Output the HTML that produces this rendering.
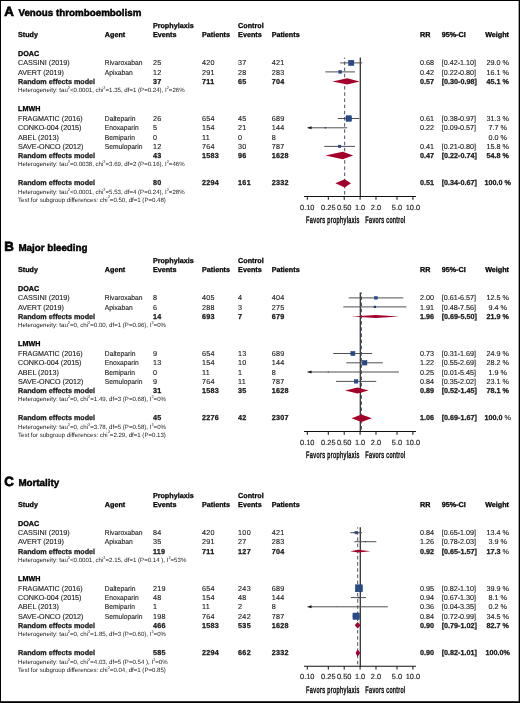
<!DOCTYPE html>
<html><head><meta charset="utf-8"><style>
html,body{margin:0;padding:0;background:#fff;}
body{width:520px;height:703px;overflow:hidden;position:relative;}
svg{position:absolute;left:0;top:0;font-family:"Liberation Sans", sans-serif;will-change:transform;text-rendering:geometricPrecision;}
.b{position:absolute;background:#000;}
</style></head><body>
<svg width="520" height="703" viewBox="0 0 520 703">
<text x="4.30" y="16.25" font-size="13.3" font-weight="bold" fill="#000" stroke="#000" stroke-width="0.7">A</text>
<text x="18.40" y="16.25" font-size="9.8" font-weight="bold" fill="#000" stroke="#000" stroke-width="0.45">Venous thromboembolism</text>
<text x="152.90" y="27.80" font-size="7.2" font-weight="bold" fill="#000" stroke="#000" stroke-width="0.26">Prophylaxis</text>
<text x="238.10" y="27.80" font-size="7.2" font-weight="bold" fill="#000" stroke="#000" stroke-width="0.26">Control</text>
<text x="18.00" y="37.00" font-size="7.2" font-weight="bold" fill="#000" stroke="#000" stroke-width="0.26">Study</text>
<text x="104.80" y="37.00" font-size="7.2" font-weight="bold" fill="#000" stroke="#000" stroke-width="0.26">Agent</text>
<text x="152.90" y="37.00" font-size="7.2" font-weight="bold" fill="#000" stroke="#000" stroke-width="0.26">Events</text>
<text x="202.00" y="37.00" font-size="7.2" font-weight="bold" fill="#000" stroke="#000" stroke-width="0.26">Patients</text>
<text x="238.10" y="37.00" font-size="7.2" font-weight="bold" fill="#000" stroke="#000" stroke-width="0.26">Events</text>
<text x="271.70" y="37.00" font-size="7.2" font-weight="bold" fill="#000" stroke="#000" stroke-width="0.26">Patients</text>
<text x="420.00" y="37.00" font-size="7.2" font-weight="bold" fill="#000" stroke="#000" stroke-width="0.26">RR</text>
<text x="441.70" y="37.00" font-size="7.2" font-weight="bold" fill="#000" stroke="#000" stroke-width="0.26">95%-CI</text>
<text x="497.10" y="37.00" font-size="7.2" font-weight="bold" text-anchor="middle" fill="#000" stroke="#000" stroke-width="0.26">Weight</text>
<text x="18.00" y="56.00" font-size="7.2" font-weight="bold" fill="#000" stroke="#000" stroke-width="0.26">DOAC</text>
<text x="18.00" y="65.00" font-size="7.2" fill="#1a1a1a" stroke="#1a1a1a" stroke-width="0.12">CASSINI (2019)</text>
<text x="104.80" y="65.00" font-size="7.2" fill="#1a1a1a" stroke="#1a1a1a" stroke-width="0.12" textLength="37.60" lengthAdjust="spacingAndGlyphs">Rivaroxaban</text>
<text x="152.90" y="65.00" font-size="7.2" fill="#1a1a1a" stroke="#1a1a1a" stroke-width="0.12" letter-spacing="0.28">25</text>
<text x="202.00" y="65.00" font-size="7.2" fill="#1a1a1a" stroke="#1a1a1a" stroke-width="0.12" letter-spacing="0.28">420</text>
<text x="238.10" y="65.00" font-size="7.2" fill="#1a1a1a" stroke="#1a1a1a" stroke-width="0.12" letter-spacing="0.28">37</text>
<text x="271.70" y="65.00" font-size="7.2" fill="#1a1a1a" stroke="#1a1a1a" stroke-width="0.12" letter-spacing="0.28">421</text>
<text x="420.00" y="65.00" font-size="7.2" fill="#1a1a1a" stroke="#1a1a1a" stroke-width="0.12">0.68</text>
<text x="441.70" y="65.00" font-size="7.2" fill="#1a1a1a" stroke="#1a1a1a" stroke-width="0.12">[0.42-1.10]</text>
<text x="497.70" y="65.00" font-size="7.2" text-anchor="middle" fill="#1a1a1a" stroke="#1a1a1a" stroke-width="0.12">29.0 %</text>
<text x="18.00" y="74.60" font-size="7.2" fill="#1a1a1a" stroke="#1a1a1a" stroke-width="0.12">AVERT (2019)</text>
<text x="104.80" y="74.60" font-size="7.2" fill="#1a1a1a" stroke="#1a1a1a" stroke-width="0.12" textLength="28.00" lengthAdjust="spacingAndGlyphs">Apixaban</text>
<text x="152.90" y="74.60" font-size="7.2" fill="#1a1a1a" stroke="#1a1a1a" stroke-width="0.12" letter-spacing="0.28">12</text>
<text x="202.00" y="74.60" font-size="7.2" fill="#1a1a1a" stroke="#1a1a1a" stroke-width="0.12" letter-spacing="0.28">291</text>
<text x="238.10" y="74.60" font-size="7.2" fill="#1a1a1a" stroke="#1a1a1a" stroke-width="0.12" letter-spacing="0.28">28</text>
<text x="271.70" y="74.60" font-size="7.2" fill="#1a1a1a" stroke="#1a1a1a" stroke-width="0.12" letter-spacing="0.28">283</text>
<text x="420.00" y="74.60" font-size="7.2" fill="#1a1a1a" stroke="#1a1a1a" stroke-width="0.12">0.42</text>
<text x="441.70" y="74.60" font-size="7.2" fill="#1a1a1a" stroke="#1a1a1a" stroke-width="0.12">[0.22-0.80]</text>
<text x="497.70" y="74.60" font-size="7.2" text-anchor="middle" fill="#1a1a1a" stroke="#1a1a1a" stroke-width="0.12">16.1 %</text>
<text x="18.00" y="83.70" font-size="7.2" font-weight="bold" fill="#1a1a1a" stroke="#1a1a1a" stroke-width="0.26">Random effects model</text>
<text x="152.90" y="83.70" font-size="7.2" font-weight="bold" fill="#1a1a1a" stroke="#1a1a1a" stroke-width="0.26" letter-spacing="0.28">37</text>
<text x="202.00" y="83.70" font-size="7.2" font-weight="bold" fill="#1a1a1a" stroke="#1a1a1a" stroke-width="0.26" letter-spacing="0.28">711</text>
<text x="238.10" y="83.70" font-size="7.2" font-weight="bold" fill="#1a1a1a" stroke="#1a1a1a" stroke-width="0.26" letter-spacing="0.28">65</text>
<text x="271.70" y="83.70" font-size="7.2" font-weight="bold" fill="#1a1a1a" stroke="#1a1a1a" stroke-width="0.26" letter-spacing="0.28">704</text>
<text x="420.00" y="83.70" font-size="7.2" font-weight="bold" fill="#1a1a1a" stroke="#1a1a1a" stroke-width="0.26">0.57</text>
<text x="441.70" y="83.70" font-size="7.2" font-weight="bold" fill="#1a1a1a" stroke="#1a1a1a" stroke-width="0.26">[0.30-0.98]</text>
<text x="497.70" y="83.70" font-size="7.2" font-weight="bold" text-anchor="middle" fill="#1a1a1a" stroke="#1a1a1a" stroke-width="0.26">45.1 %</text>
<text x="18.00" y="91.90" font-size="6.1" fill="#1a1a1a"><tspan>Heterogeneity: tau</tspan><tspan dy="-3.2" font-size="3.90">2</tspan><tspan dy="3.2">&lt;0.0001, chi</tspan><tspan dy="-3.2" font-size="3.90">2</tspan><tspan dy="3.2">=1.35, df=1 (P=0.24), I</tspan><tspan dy="-3.2" font-size="3.90">2</tspan><tspan dy="3.2">=26%</tspan></text>
<text x="18.00" y="111.40" font-size="7.2" font-weight="bold" fill="#000" stroke="#000" stroke-width="0.26">LMWH</text>
<text x="18.00" y="120.90" font-size="7.2" fill="#1a1a1a" stroke="#1a1a1a" stroke-width="0.12">FRAGMATIC (2016)</text>
<text x="104.80" y="120.90" font-size="7.2" fill="#1a1a1a" stroke="#1a1a1a" stroke-width="0.12" textLength="30.61" lengthAdjust="spacingAndGlyphs">Dalteparin</text>
<text x="152.90" y="120.90" font-size="7.2" fill="#1a1a1a" stroke="#1a1a1a" stroke-width="0.12" letter-spacing="0.28">26</text>
<text x="202.00" y="120.90" font-size="7.2" fill="#1a1a1a" stroke="#1a1a1a" stroke-width="0.12" letter-spacing="0.28">654</text>
<text x="238.10" y="120.90" font-size="7.2" fill="#1a1a1a" stroke="#1a1a1a" stroke-width="0.12" letter-spacing="0.28">45</text>
<text x="271.70" y="120.90" font-size="7.2" fill="#1a1a1a" stroke="#1a1a1a" stroke-width="0.12" letter-spacing="0.28">689</text>
<text x="420.00" y="120.90" font-size="7.2" fill="#1a1a1a" stroke="#1a1a1a" stroke-width="0.12">0.61</text>
<text x="441.70" y="120.90" font-size="7.2" fill="#1a1a1a" stroke="#1a1a1a" stroke-width="0.12">[0.38-0.97]</text>
<text x="497.70" y="120.90" font-size="7.2" text-anchor="middle" fill="#1a1a1a" stroke="#1a1a1a" stroke-width="0.12">31.3 %</text>
<text x="18.00" y="130.10" font-size="7.2" fill="#1a1a1a" stroke="#1a1a1a" stroke-width="0.12">CONKO-004 (2015)</text>
<text x="104.80" y="130.10" font-size="7.2" fill="#1a1a1a" stroke="#1a1a1a" stroke-width="0.12" textLength="33.89" lengthAdjust="spacingAndGlyphs">Enoxaparin</text>
<text x="152.90" y="130.10" font-size="7.2" fill="#1a1a1a" stroke="#1a1a1a" stroke-width="0.12" letter-spacing="0.28">5</text>
<text x="202.00" y="130.10" font-size="7.2" fill="#1a1a1a" stroke="#1a1a1a" stroke-width="0.12" letter-spacing="0.28">154</text>
<text x="238.10" y="130.10" font-size="7.2" fill="#1a1a1a" stroke="#1a1a1a" stroke-width="0.12" letter-spacing="0.28">21</text>
<text x="271.70" y="130.10" font-size="7.2" fill="#1a1a1a" stroke="#1a1a1a" stroke-width="0.12" letter-spacing="0.28">144</text>
<text x="420.00" y="130.10" font-size="7.2" fill="#1a1a1a" stroke="#1a1a1a" stroke-width="0.12">0.22</text>
<text x="441.70" y="130.10" font-size="7.2" fill="#1a1a1a" stroke="#1a1a1a" stroke-width="0.12">[0.09-0.57]</text>
<text x="497.70" y="130.10" font-size="7.2" text-anchor="middle" fill="#1a1a1a" stroke="#1a1a1a" stroke-width="0.12">7.7 %</text>
<text x="18.00" y="139.60" font-size="7.2" fill="#1a1a1a" stroke="#1a1a1a" stroke-width="0.12">ABEL (2013)</text>
<text x="104.80" y="139.60" font-size="7.2" fill="#1a1a1a" stroke="#1a1a1a" stroke-width="0.12" textLength="30.20" lengthAdjust="spacingAndGlyphs">Bemiparin</text>
<text x="152.90" y="139.60" font-size="7.2" fill="#1a1a1a" stroke="#1a1a1a" stroke-width="0.12" letter-spacing="0.28">0</text>
<text x="202.00" y="139.60" font-size="7.2" fill="#1a1a1a" stroke="#1a1a1a" stroke-width="0.12" letter-spacing="0.28">11</text>
<text x="238.10" y="139.60" font-size="7.2" fill="#1a1a1a" stroke="#1a1a1a" stroke-width="0.12" letter-spacing="0.28">0</text>
<text x="271.70" y="139.60" font-size="7.2" fill="#1a1a1a" stroke="#1a1a1a" stroke-width="0.12" letter-spacing="0.28">8</text>
<text x="497.70" y="139.60" font-size="7.2" text-anchor="middle" fill="#1a1a1a" stroke="#1a1a1a" stroke-width="0.12">0.0 %</text>
<text x="18.00" y="148.90" font-size="7.2" fill="#1a1a1a" stroke="#1a1a1a" stroke-width="0.12">SAVE-ONCO (2012)</text>
<text x="104.80" y="148.90" font-size="7.2" fill="#1a1a1a" stroke="#1a1a1a" stroke-width="0.12" textLength="37.57" lengthAdjust="spacingAndGlyphs">Semuloparin</text>
<text x="152.90" y="148.90" font-size="7.2" fill="#1a1a1a" stroke="#1a1a1a" stroke-width="0.12" letter-spacing="0.28">12</text>
<text x="202.00" y="148.90" font-size="7.2" fill="#1a1a1a" stroke="#1a1a1a" stroke-width="0.12" letter-spacing="0.28">764</text>
<text x="238.10" y="148.90" font-size="7.2" fill="#1a1a1a" stroke="#1a1a1a" stroke-width="0.12" letter-spacing="0.28">30</text>
<text x="271.70" y="148.90" font-size="7.2" fill="#1a1a1a" stroke="#1a1a1a" stroke-width="0.12" letter-spacing="0.28">787</text>
<text x="420.00" y="148.90" font-size="7.2" fill="#1a1a1a" stroke="#1a1a1a" stroke-width="0.12">0.41</text>
<text x="441.70" y="148.90" font-size="7.2" fill="#1a1a1a" stroke="#1a1a1a" stroke-width="0.12">[0.21-0.80]</text>
<text x="497.70" y="148.90" font-size="7.2" text-anchor="middle" fill="#1a1a1a" stroke="#1a1a1a" stroke-width="0.12">15.8 %</text>
<text x="18.00" y="157.70" font-size="7.2" font-weight="bold" fill="#1a1a1a" stroke="#1a1a1a" stroke-width="0.26">Random effects model</text>
<text x="152.90" y="157.70" font-size="7.2" font-weight="bold" fill="#1a1a1a" stroke="#1a1a1a" stroke-width="0.26" letter-spacing="0.28">43</text>
<text x="202.00" y="157.70" font-size="7.2" font-weight="bold" fill="#1a1a1a" stroke="#1a1a1a" stroke-width="0.26" letter-spacing="0.28">1583</text>
<text x="238.10" y="157.70" font-size="7.2" font-weight="bold" fill="#1a1a1a" stroke="#1a1a1a" stroke-width="0.26" letter-spacing="0.28">96</text>
<text x="271.70" y="157.70" font-size="7.2" font-weight="bold" fill="#1a1a1a" stroke="#1a1a1a" stroke-width="0.26" letter-spacing="0.28">1628</text>
<text x="420.00" y="157.70" font-size="7.2" font-weight="bold" fill="#1a1a1a" stroke="#1a1a1a" stroke-width="0.26">0.47</text>
<text x="441.70" y="157.70" font-size="7.2" font-weight="bold" fill="#1a1a1a" stroke="#1a1a1a" stroke-width="0.26">[0.22-0.74]</text>
<text x="497.70" y="157.70" font-size="7.2" font-weight="bold" text-anchor="middle" fill="#1a1a1a" stroke="#1a1a1a" stroke-width="0.26">54.8 %</text>
<text x="18.00" y="166.30" font-size="6.1" fill="#1a1a1a"><tspan>Heterogeneity: tau</tspan><tspan dy="-3.2" font-size="3.90">2</tspan><tspan dy="3.2">=0.0038, chi</tspan><tspan dy="-3.2" font-size="3.90">2</tspan><tspan dy="3.2">=3.69, df=2 (P=0.16), I</tspan><tspan dy="-3.2" font-size="3.90">2</tspan><tspan dy="3.2">=46%</tspan></text>
<text x="18.00" y="185.20" font-size="7.2" font-weight="bold" fill="#1a1a1a" stroke="#1a1a1a" stroke-width="0.26">Random effects model</text>
<text x="152.90" y="185.20" font-size="7.2" font-weight="bold" fill="#1a1a1a" stroke="#1a1a1a" stroke-width="0.26" letter-spacing="0.28">80</text>
<text x="202.00" y="185.20" font-size="7.2" font-weight="bold" fill="#1a1a1a" stroke="#1a1a1a" stroke-width="0.26" letter-spacing="0.28">2294</text>
<text x="238.10" y="185.20" font-size="7.2" font-weight="bold" fill="#1a1a1a" stroke="#1a1a1a" stroke-width="0.26" letter-spacing="0.28">161</text>
<text x="271.70" y="185.20" font-size="7.2" font-weight="bold" fill="#1a1a1a" stroke="#1a1a1a" stroke-width="0.26" letter-spacing="0.28">2332</text>
<text x="420.00" y="185.20" font-size="7.2" font-weight="bold" fill="#1a1a1a" stroke="#1a1a1a" stroke-width="0.26">0.51</text>
<text x="441.70" y="185.20" font-size="7.2" font-weight="bold" fill="#1a1a1a" stroke="#1a1a1a" stroke-width="0.26">[0.34-0.67]</text>
<text x="497.70" y="185.20" font-size="7.2" font-weight="bold" text-anchor="middle" fill="#1a1a1a" stroke="#1a1a1a" stroke-width="0.26">100.0 %</text>
<text x="18.00" y="194.40" font-size="6.1" fill="#1a1a1a"><tspan>Heterogeneity: tau</tspan><tspan dy="-3.2" font-size="3.90">2</tspan><tspan dy="3.2">&lt;0.0001, chi</tspan><tspan dy="-3.2" font-size="3.90">2</tspan><tspan dy="3.2">=5.53, df=4 (P=0.24), I</tspan><tspan dy="-3.2" font-size="3.90">2</tspan><tspan dy="3.2">=28%</tspan></text>
<text x="18.00" y="201.60" font-size="6.1" fill="#1a1a1a"><tspan>Test for subgroup differences: chi</tspan><tspan dy="-3.2" font-size="3.90">2</tspan><tspan dy="3.2">=0.50, df=1 (P=0.48)</tspan></text>
<line x1="360.30" y1="57.50" x2="360.30" y2="196.50" stroke="#333" stroke-width="1.3"/>
<line x1="344.66" y1="57.50" x2="344.66" y2="196.50" stroke="#46526a" stroke-width="1" stroke-dasharray="3.5 2.67" stroke-dashoffset="2.2"/>
<line x1="340.21" y1="62.90" x2="362.29" y2="62.90" stroke="#505050" stroke-width="1"/>
<rect x="348.66" y="60.30" width="5.20" height="5.20" fill="#274a88" stroke="#173677" stroke-width="0.5"/>
<line x1="325.38" y1="71.90" x2="354.98" y2="71.90" stroke="#505050" stroke-width="1"/>
<rect x="338.86" y="70.55" width="2.70" height="2.70" fill="#274a88" stroke="#173677" stroke-width="0.5"/>
<line x1="337.91" y1="118.50" x2="359.40" y2="118.50" stroke="#505050" stroke-width="1"/>
<rect x="346.02" y="115.75" width="5.50" height="5.50" fill="#274a88" stroke="#173677" stroke-width="0.5"/>
<line x1="307.50" y1="127.80" x2="347.21" y2="127.80" stroke="#505050" stroke-width="1"/>
<path d="M307.50 127.80 L311.50 126.25 L311.50 129.35 Z" fill="#111"/>
<rect x="324.63" y="127.05" width="1.50" height="1.50" fill="#1d3f80"/>
<line x1="324.31" y1="146.40" x2="354.98" y2="146.40" stroke="#505050" stroke-width="1"/>
<rect x="338.40" y="145.15" width="2.50" height="2.50" fill="#274a88" stroke="#173677" stroke-width="0.5"/>
<path d="M332.49 81.40 L347.21 78.25 L359.64 81.40 L347.21 84.55 Z" fill="#a3002b"/>
<path d="M325.38 155.50 L342.79 151.85 L353.20 155.50 L342.79 159.15 Z" fill="#a3002b"/>
<path d="M335.36 183.30 L344.66 179.20 L350.92 183.30 L344.66 187.40 Z" fill="#a3002b"/>
<line x1="304" y1="196.50" x2="416" y2="196.50" stroke="#111" stroke-width="1.1"/>
<line x1="307.30" y1="196.50" x2="307.30" y2="199.80" stroke="#111" stroke-width="1"/>
<text x="307.30" y="209.50" font-size="7.4" text-anchor="middle" fill="#222" stroke="#222" stroke-width="0.15">0.10</text>
<line x1="328.31" y1="196.50" x2="328.31" y2="199.80" stroke="#111" stroke-width="1"/>
<text x="328.31" y="209.50" font-size="7.4" text-anchor="middle" fill="#222" stroke="#222" stroke-width="0.15">0.25</text>
<line x1="344.21" y1="196.50" x2="344.21" y2="199.80" stroke="#111" stroke-width="1"/>
<text x="344.21" y="209.50" font-size="7.4" text-anchor="middle" fill="#222" stroke="#222" stroke-width="0.15">0.50</text>
<line x1="360.10" y1="196.50" x2="360.10" y2="199.80" stroke="#111" stroke-width="1"/>
<text x="360.10" y="209.50" font-size="7.4" text-anchor="middle" fill="#222" stroke="#222" stroke-width="0.15">1.0</text>
<line x1="375.99" y1="196.50" x2="375.99" y2="199.80" stroke="#111" stroke-width="1"/>
<text x="375.99" y="209.50" font-size="7.4" text-anchor="middle" fill="#222" stroke="#222" stroke-width="0.15">2.0</text>
<line x1="397.01" y1="196.50" x2="397.01" y2="199.80" stroke="#111" stroke-width="1"/>
<text x="397.01" y="209.50" font-size="7.4" text-anchor="middle" fill="#222" stroke="#222" stroke-width="0.15">5.0</text>
<line x1="412.90" y1="196.50" x2="412.90" y2="199.80" stroke="#111" stroke-width="1"/>
<text x="412.90" y="209.50" font-size="7.4" text-anchor="middle" fill="#222" stroke="#222" stroke-width="0.15">10.0</text>
<text x="0" y="0" font-size="9.4" fill="#111" stroke="#111" stroke-width="0.5" letter-spacing="0.62" transform="translate(305.9 222.80) scale(0.6 1)">Favors prophylaxis</text>
<text x="0" y="0" font-size="9.4" fill="#111" stroke="#111" stroke-width="0.5" letter-spacing="0.55" transform="translate(365.2 222.80) scale(0.6 1)">Favors control</text>
<text x="4.30" y="251.25" font-size="13.3" font-weight="bold" fill="#000" stroke="#000" stroke-width="0.7">B</text>
<text x="18.40" y="251.25" font-size="9.8" font-weight="bold" fill="#000" stroke="#000" stroke-width="0.45">Major bleeding</text>
<text x="152.90" y="262.80" font-size="7.2" font-weight="bold" fill="#000" stroke="#000" stroke-width="0.26">Prophylaxis</text>
<text x="238.10" y="262.80" font-size="7.2" font-weight="bold" fill="#000" stroke="#000" stroke-width="0.26">Control</text>
<text x="18.00" y="272.00" font-size="7.2" font-weight="bold" fill="#000" stroke="#000" stroke-width="0.26">Study</text>
<text x="104.80" y="272.00" font-size="7.2" font-weight="bold" fill="#000" stroke="#000" stroke-width="0.26">Agent</text>
<text x="152.90" y="272.00" font-size="7.2" font-weight="bold" fill="#000" stroke="#000" stroke-width="0.26">Events</text>
<text x="202.00" y="272.00" font-size="7.2" font-weight="bold" fill="#000" stroke="#000" stroke-width="0.26">Patients</text>
<text x="238.10" y="272.00" font-size="7.2" font-weight="bold" fill="#000" stroke="#000" stroke-width="0.26">Events</text>
<text x="271.70" y="272.00" font-size="7.2" font-weight="bold" fill="#000" stroke="#000" stroke-width="0.26">Patients</text>
<text x="420.00" y="272.00" font-size="7.2" font-weight="bold" fill="#000" stroke="#000" stroke-width="0.26">RR</text>
<text x="441.70" y="272.00" font-size="7.2" font-weight="bold" fill="#000" stroke="#000" stroke-width="0.26">95%-CI</text>
<text x="497.10" y="272.00" font-size="7.2" font-weight="bold" text-anchor="middle" fill="#000" stroke="#000" stroke-width="0.26">Weight</text>
<text x="18.00" y="291.00" font-size="7.2" font-weight="bold" fill="#000" stroke="#000" stroke-width="0.26">DOAC</text>
<text x="18.00" y="300.00" font-size="7.2" fill="#1a1a1a" stroke="#1a1a1a" stroke-width="0.12">CASSINI (2019)</text>
<text x="104.80" y="300.00" font-size="7.2" fill="#1a1a1a" stroke="#1a1a1a" stroke-width="0.12" textLength="37.60" lengthAdjust="spacingAndGlyphs">Rivaroxaban</text>
<text x="152.90" y="300.00" font-size="7.2" fill="#1a1a1a" stroke="#1a1a1a" stroke-width="0.12" letter-spacing="0.28">8</text>
<text x="202.00" y="300.00" font-size="7.2" fill="#1a1a1a" stroke="#1a1a1a" stroke-width="0.12" letter-spacing="0.28">405</text>
<text x="238.10" y="300.00" font-size="7.2" fill="#1a1a1a" stroke="#1a1a1a" stroke-width="0.12" letter-spacing="0.28">4</text>
<text x="271.70" y="300.00" font-size="7.2" fill="#1a1a1a" stroke="#1a1a1a" stroke-width="0.12" letter-spacing="0.28">404</text>
<text x="420.00" y="300.00" font-size="7.2" fill="#1a1a1a" stroke="#1a1a1a" stroke-width="0.12">2.00</text>
<text x="441.70" y="300.00" font-size="7.2" fill="#1a1a1a" stroke="#1a1a1a" stroke-width="0.12">[0.61-6.57]</text>
<text x="497.70" y="300.00" font-size="7.2" text-anchor="middle" fill="#1a1a1a" stroke="#1a1a1a" stroke-width="0.12">12.5 %</text>
<text x="18.00" y="309.60" font-size="7.2" fill="#1a1a1a" stroke="#1a1a1a" stroke-width="0.12">AVERT (2019)</text>
<text x="104.80" y="309.60" font-size="7.2" fill="#1a1a1a" stroke="#1a1a1a" stroke-width="0.12" textLength="28.00" lengthAdjust="spacingAndGlyphs">Apixaban</text>
<text x="152.90" y="309.60" font-size="7.2" fill="#1a1a1a" stroke="#1a1a1a" stroke-width="0.12" letter-spacing="0.28">6</text>
<text x="202.00" y="309.60" font-size="7.2" fill="#1a1a1a" stroke="#1a1a1a" stroke-width="0.12" letter-spacing="0.28">288</text>
<text x="238.10" y="309.60" font-size="7.2" fill="#1a1a1a" stroke="#1a1a1a" stroke-width="0.12" letter-spacing="0.28">3</text>
<text x="271.70" y="309.60" font-size="7.2" fill="#1a1a1a" stroke="#1a1a1a" stroke-width="0.12" letter-spacing="0.28">275</text>
<text x="420.00" y="309.60" font-size="7.2" fill="#1a1a1a" stroke="#1a1a1a" stroke-width="0.12">1.91</text>
<text x="441.70" y="309.60" font-size="7.2" fill="#1a1a1a" stroke="#1a1a1a" stroke-width="0.12">[0.48-7.56]</text>
<text x="497.70" y="309.60" font-size="7.2" text-anchor="middle" fill="#1a1a1a" stroke="#1a1a1a" stroke-width="0.12">9.4 %</text>
<text x="18.00" y="318.70" font-size="7.2" font-weight="bold" fill="#1a1a1a" stroke="#1a1a1a" stroke-width="0.26">Random effects model</text>
<text x="152.90" y="318.70" font-size="7.2" font-weight="bold" fill="#1a1a1a" stroke="#1a1a1a" stroke-width="0.26" letter-spacing="0.28">14</text>
<text x="202.00" y="318.70" font-size="7.2" font-weight="bold" fill="#1a1a1a" stroke="#1a1a1a" stroke-width="0.26" letter-spacing="0.28">693</text>
<text x="238.10" y="318.70" font-size="7.2" font-weight="bold" fill="#1a1a1a" stroke="#1a1a1a" stroke-width="0.26" letter-spacing="0.28">7</text>
<text x="271.70" y="318.70" font-size="7.2" font-weight="bold" fill="#1a1a1a" stroke="#1a1a1a" stroke-width="0.26" letter-spacing="0.28">679</text>
<text x="420.00" y="318.70" font-size="7.2" font-weight="bold" fill="#1a1a1a" stroke="#1a1a1a" stroke-width="0.26">1.96</text>
<text x="441.70" y="318.70" font-size="7.2" font-weight="bold" fill="#1a1a1a" stroke="#1a1a1a" stroke-width="0.26">[0.69-5.50]</text>
<text x="497.70" y="318.70" font-size="7.2" font-weight="bold" text-anchor="middle" fill="#1a1a1a" stroke="#1a1a1a" stroke-width="0.26">21.9 %</text>
<text x="18.00" y="326.90" font-size="6.1" fill="#1a1a1a"><tspan>Heterogeneity: tau</tspan><tspan dy="-3.2" font-size="3.90">2</tspan><tspan dy="3.2">=0, chi</tspan><tspan dy="-3.2" font-size="3.90">2</tspan><tspan dy="3.2">=0.00, df=1 (P=0.96), I</tspan><tspan dy="-3.2" font-size="3.90">2</tspan><tspan dy="3.2">=0%</tspan></text>
<text x="18.00" y="346.40" font-size="7.2" font-weight="bold" fill="#000" stroke="#000" stroke-width="0.26">LMWH</text>
<text x="18.00" y="355.90" font-size="7.2" fill="#1a1a1a" stroke="#1a1a1a" stroke-width="0.12">FRAGMATIC (2016)</text>
<text x="104.80" y="355.90" font-size="7.2" fill="#1a1a1a" stroke="#1a1a1a" stroke-width="0.12" textLength="30.61" lengthAdjust="spacingAndGlyphs">Dalteparin</text>
<text x="152.90" y="355.90" font-size="7.2" fill="#1a1a1a" stroke="#1a1a1a" stroke-width="0.12" letter-spacing="0.28">9</text>
<text x="202.00" y="355.90" font-size="7.2" fill="#1a1a1a" stroke="#1a1a1a" stroke-width="0.12" letter-spacing="0.28">654</text>
<text x="238.10" y="355.90" font-size="7.2" fill="#1a1a1a" stroke="#1a1a1a" stroke-width="0.12" letter-spacing="0.28">13</text>
<text x="271.70" y="355.90" font-size="7.2" fill="#1a1a1a" stroke="#1a1a1a" stroke-width="0.12" letter-spacing="0.28">689</text>
<text x="420.00" y="355.90" font-size="7.2" fill="#1a1a1a" stroke="#1a1a1a" stroke-width="0.12">0.73</text>
<text x="441.70" y="355.90" font-size="7.2" fill="#1a1a1a" stroke="#1a1a1a" stroke-width="0.12">[0.31-1.69]</text>
<text x="497.70" y="355.90" font-size="7.2" text-anchor="middle" fill="#1a1a1a" stroke="#1a1a1a" stroke-width="0.12">24.9 %</text>
<text x="18.00" y="365.10" font-size="7.2" fill="#1a1a1a" stroke="#1a1a1a" stroke-width="0.12">CONKO-004 (2015)</text>
<text x="104.80" y="365.10" font-size="7.2" fill="#1a1a1a" stroke="#1a1a1a" stroke-width="0.12" textLength="33.89" lengthAdjust="spacingAndGlyphs">Enoxaparin</text>
<text x="152.90" y="365.10" font-size="7.2" fill="#1a1a1a" stroke="#1a1a1a" stroke-width="0.12" letter-spacing="0.28">13</text>
<text x="202.00" y="365.10" font-size="7.2" fill="#1a1a1a" stroke="#1a1a1a" stroke-width="0.12" letter-spacing="0.28">154</text>
<text x="238.10" y="365.10" font-size="7.2" fill="#1a1a1a" stroke="#1a1a1a" stroke-width="0.12" letter-spacing="0.28">10</text>
<text x="271.70" y="365.10" font-size="7.2" fill="#1a1a1a" stroke="#1a1a1a" stroke-width="0.12" letter-spacing="0.28">144</text>
<text x="420.00" y="365.10" font-size="7.2" fill="#1a1a1a" stroke="#1a1a1a" stroke-width="0.12">1.22</text>
<text x="441.70" y="365.10" font-size="7.2" fill="#1a1a1a" stroke="#1a1a1a" stroke-width="0.12">[0.55-2.69]</text>
<text x="497.70" y="365.10" font-size="7.2" text-anchor="middle" fill="#1a1a1a" stroke="#1a1a1a" stroke-width="0.12">28.2 %</text>
<text x="18.00" y="374.60" font-size="7.2" fill="#1a1a1a" stroke="#1a1a1a" stroke-width="0.12">ABEL (2013)</text>
<text x="104.80" y="374.60" font-size="7.2" fill="#1a1a1a" stroke="#1a1a1a" stroke-width="0.12" textLength="30.20" lengthAdjust="spacingAndGlyphs">Bemiparin</text>
<text x="152.90" y="374.60" font-size="7.2" fill="#1a1a1a" stroke="#1a1a1a" stroke-width="0.12" letter-spacing="0.28">0</text>
<text x="202.00" y="374.60" font-size="7.2" fill="#1a1a1a" stroke="#1a1a1a" stroke-width="0.12" letter-spacing="0.28">11</text>
<text x="238.10" y="374.60" font-size="7.2" fill="#1a1a1a" stroke="#1a1a1a" stroke-width="0.12" letter-spacing="0.28">1</text>
<text x="271.70" y="374.60" font-size="7.2" fill="#1a1a1a" stroke="#1a1a1a" stroke-width="0.12" letter-spacing="0.28">8</text>
<text x="420.00" y="374.60" font-size="7.2" fill="#1a1a1a" stroke="#1a1a1a" stroke-width="0.12">0.25</text>
<text x="441.70" y="374.60" font-size="7.2" fill="#1a1a1a" stroke="#1a1a1a" stroke-width="0.12">[0.01-5.45]</text>
<text x="497.70" y="374.60" font-size="7.2" text-anchor="middle" fill="#1a1a1a" stroke="#1a1a1a" stroke-width="0.12">1.9 %</text>
<text x="18.00" y="383.90" font-size="7.2" fill="#1a1a1a" stroke="#1a1a1a" stroke-width="0.12">SAVE-ONCO (2012)</text>
<text x="104.80" y="383.90" font-size="7.2" fill="#1a1a1a" stroke="#1a1a1a" stroke-width="0.12" textLength="37.57" lengthAdjust="spacingAndGlyphs">Semuloparin</text>
<text x="152.90" y="383.90" font-size="7.2" fill="#1a1a1a" stroke="#1a1a1a" stroke-width="0.12" letter-spacing="0.28">9</text>
<text x="202.00" y="383.90" font-size="7.2" fill="#1a1a1a" stroke="#1a1a1a" stroke-width="0.12" letter-spacing="0.28">764</text>
<text x="238.10" y="383.90" font-size="7.2" fill="#1a1a1a" stroke="#1a1a1a" stroke-width="0.12" letter-spacing="0.28">11</text>
<text x="271.70" y="383.90" font-size="7.2" fill="#1a1a1a" stroke="#1a1a1a" stroke-width="0.12" letter-spacing="0.28">787</text>
<text x="420.00" y="383.90" font-size="7.2" fill="#1a1a1a" stroke="#1a1a1a" stroke-width="0.12">0.84</text>
<text x="441.70" y="383.90" font-size="7.2" fill="#1a1a1a" stroke="#1a1a1a" stroke-width="0.12">[0.35-2.02]</text>
<text x="497.70" y="383.90" font-size="7.2" text-anchor="middle" fill="#1a1a1a" stroke="#1a1a1a" stroke-width="0.12">23.1 %</text>
<text x="18.00" y="392.70" font-size="7.2" font-weight="bold" fill="#1a1a1a" stroke="#1a1a1a" stroke-width="0.26">Random effects model</text>
<text x="152.90" y="392.70" font-size="7.2" font-weight="bold" fill="#1a1a1a" stroke="#1a1a1a" stroke-width="0.26" letter-spacing="0.28">31</text>
<text x="202.00" y="392.70" font-size="7.2" font-weight="bold" fill="#1a1a1a" stroke="#1a1a1a" stroke-width="0.26" letter-spacing="0.28">1583</text>
<text x="238.10" y="392.70" font-size="7.2" font-weight="bold" fill="#1a1a1a" stroke="#1a1a1a" stroke-width="0.26" letter-spacing="0.28">35</text>
<text x="271.70" y="392.70" font-size="7.2" font-weight="bold" fill="#1a1a1a" stroke="#1a1a1a" stroke-width="0.26" letter-spacing="0.28">1628</text>
<text x="420.00" y="392.70" font-size="7.2" font-weight="bold" fill="#1a1a1a" stroke="#1a1a1a" stroke-width="0.26">0.89</text>
<text x="441.70" y="392.70" font-size="7.2" font-weight="bold" fill="#1a1a1a" stroke="#1a1a1a" stroke-width="0.26">[0.52-1.45]</text>
<text x="497.70" y="392.70" font-size="7.2" font-weight="bold" text-anchor="middle" fill="#1a1a1a" stroke="#1a1a1a" stroke-width="0.26">78.1 %</text>
<text x="18.00" y="401.30" font-size="6.1" fill="#1a1a1a"><tspan>Heterogeneity: tau</tspan><tspan dy="-3.2" font-size="3.90">2</tspan><tspan dy="3.2">=0, chi</tspan><tspan dy="-3.2" font-size="3.90">2</tspan><tspan dy="3.2">=1.49, df=3 (P=0.68), I</tspan><tspan dy="-3.2" font-size="3.90">2</tspan><tspan dy="3.2">=0%</tspan></text>
<text x="18.00" y="420.20" font-size="7.2" font-weight="bold" fill="#1a1a1a" stroke="#1a1a1a" stroke-width="0.26">Random effects model</text>
<text x="152.90" y="420.20" font-size="7.2" font-weight="bold" fill="#1a1a1a" stroke="#1a1a1a" stroke-width="0.26" letter-spacing="0.28">45</text>
<text x="202.00" y="420.20" font-size="7.2" font-weight="bold" fill="#1a1a1a" stroke="#1a1a1a" stroke-width="0.26" letter-spacing="0.28">2276</text>
<text x="238.10" y="420.20" font-size="7.2" font-weight="bold" fill="#1a1a1a" stroke="#1a1a1a" stroke-width="0.26" letter-spacing="0.28">42</text>
<text x="271.70" y="420.20" font-size="7.2" font-weight="bold" fill="#1a1a1a" stroke="#1a1a1a" stroke-width="0.26" letter-spacing="0.28">2307</text>
<text x="420.00" y="420.20" font-size="7.2" font-weight="bold" fill="#1a1a1a" stroke="#1a1a1a" stroke-width="0.26">1.06</text>
<text x="441.70" y="420.20" font-size="7.2" font-weight="bold" fill="#1a1a1a" stroke="#1a1a1a" stroke-width="0.26">[0.69-1.67]</text>
<text x="497.70" y="420.20" font-size="7.2" font-weight="bold" text-anchor="middle" fill="#1a1a1a" stroke="#1a1a1a" stroke-width="0.26">100.0 <tspan font-weight="normal" stroke-width="0.12">%</tspan></text>
<text x="18.00" y="429.40" font-size="6.1" fill="#1a1a1a"><tspan>Heterogeneity: tau</tspan><tspan dy="-3.2" font-size="3.90">2</tspan><tspan dy="3.2">=0, chi</tspan><tspan dy="-3.2" font-size="3.90">2</tspan><tspan dy="3.2">=3.78, df=5 (P=0.58), I</tspan><tspan dy="-3.2" font-size="3.90">2</tspan><tspan dy="3.2">=0%</tspan></text>
<text x="18.00" y="436.60" font-size="6.1" fill="#1a1a1a"><tspan>Test for subgroup differences: chi</tspan><tspan dy="-3.2" font-size="3.90">2</tspan><tspan dy="3.2">=2.29, df=1 (P=0.13)</tspan></text>
<line x1="360.30" y1="292.50" x2="360.30" y2="431.50" stroke="#333" stroke-width="1.3"/>
<line x1="361.44" y1="292.50" x2="361.44" y2="431.50" stroke="#46526a" stroke-width="1" stroke-dasharray="3.5 2.67" stroke-dashoffset="2.2"/>
<line x1="348.77" y1="297.90" x2="403.27" y2="297.90" stroke="#505050" stroke-width="1"/>
<rect x="374.74" y="296.65" width="2.50" height="2.50" fill="#274a88" stroke="#173677" stroke-width="0.5"/>
<line x1="343.27" y1="306.90" x2="406.49" y2="306.90" stroke="#505050" stroke-width="1"/>
<rect x="373.79" y="305.75" width="2.30" height="2.30" fill="#1d3f80"/>
<line x1="333.24" y1="353.50" x2="372.13" y2="353.50" stroke="#505050" stroke-width="1"/>
<rect x="350.83" y="351.45" width="4.10" height="4.10" fill="#274a88" stroke="#173677" stroke-width="0.5"/>
<line x1="346.39" y1="362.80" x2="382.79" y2="362.80" stroke="#505050" stroke-width="1"/>
<rect x="362.41" y="360.55" width="4.50" height="4.50" fill="#274a88" stroke="#173677" stroke-width="0.5"/>
<line x1="307.50" y1="372.00" x2="398.98" y2="372.00" stroke="#505050" stroke-width="1"/>
<path d="M307.50 372.00 L311.50 370.45 L311.50 373.55 Z" fill="#111"/>
<rect x="327.81" y="371.50" width="1.00" height="1.00" fill="#1d3f80"/>
<line x1="336.03" y1="381.40" x2="376.22" y2="381.40" stroke="#505050" stroke-width="1"/>
<rect x="354.35" y="379.65" width="3.50" height="3.50" fill="#274a88" stroke="#173677" stroke-width="0.5"/>
<path d="M351.59 316.40 L375.53 314.90 L399.19 316.40 L375.53 317.90 Z" fill="#a3002b"/>
<path d="M345.10 390.50 L357.43 387.60 L368.62 390.50 L357.43 393.40 Z" fill="#a3002b"/>
<path d="M351.59 418.30 L361.44 414.50 L371.86 418.30 L361.44 422.10 Z" fill="#a3002b"/>
<line x1="304" y1="431.50" x2="416" y2="431.50" stroke="#111" stroke-width="1.1"/>
<line x1="307.30" y1="431.50" x2="307.30" y2="434.80" stroke="#111" stroke-width="1"/>
<text x="307.30" y="444.50" font-size="7.4" text-anchor="middle" fill="#222" stroke="#222" stroke-width="0.15">0.10</text>
<line x1="328.31" y1="431.50" x2="328.31" y2="434.80" stroke="#111" stroke-width="1"/>
<text x="328.31" y="444.50" font-size="7.4" text-anchor="middle" fill="#222" stroke="#222" stroke-width="0.15">0.25</text>
<line x1="344.21" y1="431.50" x2="344.21" y2="434.80" stroke="#111" stroke-width="1"/>
<text x="344.21" y="444.50" font-size="7.4" text-anchor="middle" fill="#222" stroke="#222" stroke-width="0.15">0.50</text>
<line x1="360.10" y1="431.50" x2="360.10" y2="434.80" stroke="#111" stroke-width="1"/>
<text x="360.10" y="444.50" font-size="7.4" text-anchor="middle" fill="#222" stroke="#222" stroke-width="0.15">1.0</text>
<line x1="375.99" y1="431.50" x2="375.99" y2="434.80" stroke="#111" stroke-width="1"/>
<text x="375.99" y="444.50" font-size="7.4" text-anchor="middle" fill="#222" stroke="#222" stroke-width="0.15">2.0</text>
<line x1="397.01" y1="431.50" x2="397.01" y2="434.80" stroke="#111" stroke-width="1"/>
<text x="397.01" y="444.50" font-size="7.4" text-anchor="middle" fill="#222" stroke="#222" stroke-width="0.15">5.0</text>
<line x1="412.90" y1="431.50" x2="412.90" y2="434.80" stroke="#111" stroke-width="1"/>
<text x="412.90" y="444.50" font-size="7.4" text-anchor="middle" fill="#222" stroke="#222" stroke-width="0.15">10.0</text>
<text x="0" y="0" font-size="9.4" fill="#111" stroke="#111" stroke-width="0.5" letter-spacing="0.62" transform="translate(305.9 457.80) scale(0.6 1)">Favors prophylaxis</text>
<text x="0" y="0" font-size="9.4" fill="#111" stroke="#111" stroke-width="0.5" letter-spacing="0.55" transform="translate(365.2 457.80) scale(0.6 1)">Favors control</text>
<text x="4.30" y="486.05" font-size="13.3" font-weight="bold" fill="#000" stroke="#000" stroke-width="0.7">C</text>
<text x="18.40" y="486.05" font-size="9.8" font-weight="bold" fill="#000" stroke="#000" stroke-width="0.45">Mortality</text>
<text x="152.90" y="497.60" font-size="7.2" font-weight="bold" fill="#000" stroke="#000" stroke-width="0.26">Prophylaxis</text>
<text x="238.10" y="497.60" font-size="7.2" font-weight="bold" fill="#000" stroke="#000" stroke-width="0.26">Control</text>
<text x="18.00" y="506.80" font-size="7.2" font-weight="bold" fill="#000" stroke="#000" stroke-width="0.26">Study</text>
<text x="104.80" y="506.80" font-size="7.2" font-weight="bold" fill="#000" stroke="#000" stroke-width="0.26">Agent</text>
<text x="152.90" y="506.80" font-size="7.2" font-weight="bold" fill="#000" stroke="#000" stroke-width="0.26">Events</text>
<text x="202.00" y="506.80" font-size="7.2" font-weight="bold" fill="#000" stroke="#000" stroke-width="0.26">Patients</text>
<text x="238.10" y="506.80" font-size="7.2" font-weight="bold" fill="#000" stroke="#000" stroke-width="0.26">Events</text>
<text x="271.70" y="506.80" font-size="7.2" font-weight="bold" fill="#000" stroke="#000" stroke-width="0.26">Patients</text>
<text x="420.00" y="506.80" font-size="7.2" font-weight="bold" fill="#000" stroke="#000" stroke-width="0.26">RR</text>
<text x="441.70" y="506.80" font-size="7.2" font-weight="bold" fill="#000" stroke="#000" stroke-width="0.26">95%-CI</text>
<text x="497.10" y="506.80" font-size="7.2" font-weight="bold" text-anchor="middle" fill="#000" stroke="#000" stroke-width="0.26">Weight</text>
<text x="18.00" y="525.80" font-size="7.2" font-weight="bold" fill="#000" stroke="#000" stroke-width="0.26">DOAC</text>
<text x="18.00" y="534.80" font-size="7.2" fill="#1a1a1a" stroke="#1a1a1a" stroke-width="0.12">CASSINI (2019)</text>
<text x="104.80" y="534.80" font-size="7.2" fill="#1a1a1a" stroke="#1a1a1a" stroke-width="0.12" textLength="37.60" lengthAdjust="spacingAndGlyphs">Rivaroxaban</text>
<text x="152.90" y="534.80" font-size="7.2" fill="#1a1a1a" stroke="#1a1a1a" stroke-width="0.12" letter-spacing="0.28">84</text>
<text x="202.00" y="534.80" font-size="7.2" fill="#1a1a1a" stroke="#1a1a1a" stroke-width="0.12" letter-spacing="0.28">420</text>
<text x="238.10" y="534.80" font-size="7.2" fill="#1a1a1a" stroke="#1a1a1a" stroke-width="0.12" letter-spacing="0.28">100</text>
<text x="271.70" y="534.80" font-size="7.2" fill="#1a1a1a" stroke="#1a1a1a" stroke-width="0.12" letter-spacing="0.28">421</text>
<text x="420.00" y="534.80" font-size="7.2" fill="#1a1a1a" stroke="#1a1a1a" stroke-width="0.12">0.84</text>
<text x="441.70" y="534.80" font-size="7.2" fill="#1a1a1a" stroke="#1a1a1a" stroke-width="0.12">[0.65-1.09]</text>
<text x="497.70" y="534.80" font-size="7.2" text-anchor="middle" fill="#1a1a1a" stroke="#1a1a1a" stroke-width="0.12">13.4 %</text>
<text x="18.00" y="544.40" font-size="7.2" fill="#1a1a1a" stroke="#1a1a1a" stroke-width="0.12">AVERT (2019)</text>
<text x="104.80" y="544.40" font-size="7.2" fill="#1a1a1a" stroke="#1a1a1a" stroke-width="0.12" textLength="28.00" lengthAdjust="spacingAndGlyphs">Apixaban</text>
<text x="152.90" y="544.40" font-size="7.2" fill="#1a1a1a" stroke="#1a1a1a" stroke-width="0.12" letter-spacing="0.28">35</text>
<text x="202.00" y="544.40" font-size="7.2" fill="#1a1a1a" stroke="#1a1a1a" stroke-width="0.12" letter-spacing="0.28">291</text>
<text x="238.10" y="544.40" font-size="7.2" fill="#1a1a1a" stroke="#1a1a1a" stroke-width="0.12" letter-spacing="0.28">27</text>
<text x="271.70" y="544.40" font-size="7.2" fill="#1a1a1a" stroke="#1a1a1a" stroke-width="0.12" letter-spacing="0.28">283</text>
<text x="420.00" y="544.40" font-size="7.2" fill="#1a1a1a" stroke="#1a1a1a" stroke-width="0.12">1.26</text>
<text x="441.70" y="544.40" font-size="7.2" fill="#1a1a1a" stroke="#1a1a1a" stroke-width="0.12">[0.78-2.03]</text>
<text x="497.70" y="544.40" font-size="7.2" text-anchor="middle" fill="#1a1a1a" stroke="#1a1a1a" stroke-width="0.12">3.9 %</text>
<text x="18.00" y="553.50" font-size="7.2" font-weight="bold" fill="#1a1a1a" stroke="#1a1a1a" stroke-width="0.26">Random effects model</text>
<text x="152.90" y="553.50" font-size="7.2" font-weight="bold" fill="#1a1a1a" stroke="#1a1a1a" stroke-width="0.26" letter-spacing="0.28">119</text>
<text x="202.00" y="553.50" font-size="7.2" font-weight="bold" fill="#1a1a1a" stroke="#1a1a1a" stroke-width="0.26" letter-spacing="0.28">711</text>
<text x="238.10" y="553.50" font-size="7.2" font-weight="bold" fill="#1a1a1a" stroke="#1a1a1a" stroke-width="0.26" letter-spacing="0.28">127</text>
<text x="271.70" y="553.50" font-size="7.2" font-weight="bold" fill="#1a1a1a" stroke="#1a1a1a" stroke-width="0.26" letter-spacing="0.28">704</text>
<text x="420.00" y="553.50" font-size="7.2" font-weight="bold" fill="#1a1a1a" stroke="#1a1a1a" stroke-width="0.26">0.92</text>
<text x="441.70" y="553.50" font-size="7.2" font-weight="bold" fill="#1a1a1a" stroke="#1a1a1a" stroke-width="0.26">[0.65-1.57]</text>
<text x="497.70" y="553.50" font-size="7.2" font-weight="bold" text-anchor="middle" fill="#1a1a1a" stroke="#1a1a1a" stroke-width="0.26">17.3 <tspan font-weight="normal" stroke-width="0.12">%</tspan></text>
<text x="18.00" y="561.70" font-size="6.1" fill="#1a1a1a"><tspan>Heterogeneity: tau</tspan><tspan dy="-3.2" font-size="3.90">2</tspan><tspan dy="3.2">&lt;0.0001, chi</tspan><tspan dy="-3.2" font-size="3.90">2</tspan><tspan dy="3.2">=2.15, df=1 (P=0.14 ), I</tspan><tspan dy="-3.2" font-size="3.90">2</tspan><tspan dy="3.2">=53%</tspan></text>
<text x="18.00" y="581.20" font-size="7.2" font-weight="bold" fill="#000" stroke="#000" stroke-width="0.26">LMWH</text>
<text x="18.00" y="590.70" font-size="7.2" fill="#1a1a1a" stroke="#1a1a1a" stroke-width="0.12">FRAGMATIC (2016)</text>
<text x="104.80" y="590.70" font-size="7.2" fill="#1a1a1a" stroke="#1a1a1a" stroke-width="0.12" textLength="30.61" lengthAdjust="spacingAndGlyphs">Dalteparin</text>
<text x="152.90" y="590.70" font-size="7.2" fill="#1a1a1a" stroke="#1a1a1a" stroke-width="0.12" letter-spacing="0.28">219</text>
<text x="202.00" y="590.70" font-size="7.2" fill="#1a1a1a" stroke="#1a1a1a" stroke-width="0.12" letter-spacing="0.28">654</text>
<text x="238.10" y="590.70" font-size="7.2" fill="#1a1a1a" stroke="#1a1a1a" stroke-width="0.12" letter-spacing="0.28">243</text>
<text x="271.70" y="590.70" font-size="7.2" fill="#1a1a1a" stroke="#1a1a1a" stroke-width="0.12" letter-spacing="0.28">689</text>
<text x="420.00" y="590.70" font-size="7.2" fill="#1a1a1a" stroke="#1a1a1a" stroke-width="0.12">0.95</text>
<text x="441.70" y="590.70" font-size="7.2" fill="#1a1a1a" stroke="#1a1a1a" stroke-width="0.12">[0.82-1.10]</text>
<text x="497.70" y="590.70" font-size="7.2" text-anchor="middle" fill="#1a1a1a" stroke="#1a1a1a" stroke-width="0.12">39.9 %</text>
<text x="18.00" y="599.90" font-size="7.2" fill="#1a1a1a" stroke="#1a1a1a" stroke-width="0.12">CONKO-004 (2015)</text>
<text x="104.80" y="599.90" font-size="7.2" fill="#1a1a1a" stroke="#1a1a1a" stroke-width="0.12" textLength="33.89" lengthAdjust="spacingAndGlyphs">Enoxaparin</text>
<text x="152.90" y="599.90" font-size="7.2" fill="#1a1a1a" stroke="#1a1a1a" stroke-width="0.12" letter-spacing="0.28">48</text>
<text x="202.00" y="599.90" font-size="7.2" fill="#1a1a1a" stroke="#1a1a1a" stroke-width="0.12" letter-spacing="0.28">154</text>
<text x="238.10" y="599.90" font-size="7.2" fill="#1a1a1a" stroke="#1a1a1a" stroke-width="0.12" letter-spacing="0.28">48</text>
<text x="271.70" y="599.90" font-size="7.2" fill="#1a1a1a" stroke="#1a1a1a" stroke-width="0.12" letter-spacing="0.28">144</text>
<text x="420.00" y="599.90" font-size="7.2" fill="#1a1a1a" stroke="#1a1a1a" stroke-width="0.12">0.94</text>
<text x="441.70" y="599.90" font-size="7.2" fill="#1a1a1a" stroke="#1a1a1a" stroke-width="0.12">[0.67-1.30]</text>
<text x="497.70" y="599.90" font-size="7.2" text-anchor="middle" fill="#1a1a1a" stroke="#1a1a1a" stroke-width="0.12">8.1 %</text>
<text x="18.00" y="609.40" font-size="7.2" fill="#1a1a1a" stroke="#1a1a1a" stroke-width="0.12">ABEL (2013)</text>
<text x="104.80" y="609.40" font-size="7.2" fill="#1a1a1a" stroke="#1a1a1a" stroke-width="0.12" textLength="30.20" lengthAdjust="spacingAndGlyphs">Bemiparin</text>
<text x="152.90" y="609.40" font-size="7.2" fill="#1a1a1a" stroke="#1a1a1a" stroke-width="0.12" letter-spacing="0.28">1</text>
<text x="202.00" y="609.40" font-size="7.2" fill="#1a1a1a" stroke="#1a1a1a" stroke-width="0.12" letter-spacing="0.28">11</text>
<text x="238.10" y="609.40" font-size="7.2" fill="#1a1a1a" stroke="#1a1a1a" stroke-width="0.12" letter-spacing="0.28">2</text>
<text x="271.70" y="609.40" font-size="7.2" fill="#1a1a1a" stroke="#1a1a1a" stroke-width="0.12" letter-spacing="0.28">8</text>
<text x="420.00" y="609.40" font-size="7.2" fill="#1a1a1a" stroke="#1a1a1a" stroke-width="0.12">0.36</text>
<text x="441.70" y="609.40" font-size="7.2" fill="#1a1a1a" stroke="#1a1a1a" stroke-width="0.12">[0.04-3.35]</text>
<text x="497.70" y="609.40" font-size="7.2" text-anchor="middle" fill="#1a1a1a" stroke="#1a1a1a" stroke-width="0.12">0.2 %</text>
<text x="18.00" y="618.70" font-size="7.2" fill="#1a1a1a" stroke="#1a1a1a" stroke-width="0.12">SAVE-ONCO (2012)</text>
<text x="104.80" y="618.70" font-size="7.2" fill="#1a1a1a" stroke="#1a1a1a" stroke-width="0.12" textLength="37.57" lengthAdjust="spacingAndGlyphs">Semuloparin</text>
<text x="152.90" y="618.70" font-size="7.2" fill="#1a1a1a" stroke="#1a1a1a" stroke-width="0.12" letter-spacing="0.28">198</text>
<text x="202.00" y="618.70" font-size="7.2" fill="#1a1a1a" stroke="#1a1a1a" stroke-width="0.12" letter-spacing="0.28">764</text>
<text x="238.10" y="618.70" font-size="7.2" fill="#1a1a1a" stroke="#1a1a1a" stroke-width="0.12" letter-spacing="0.28">242</text>
<text x="271.70" y="618.70" font-size="7.2" fill="#1a1a1a" stroke="#1a1a1a" stroke-width="0.12" letter-spacing="0.28">787</text>
<text x="420.00" y="618.70" font-size="7.2" fill="#1a1a1a" stroke="#1a1a1a" stroke-width="0.12">0.84</text>
<text x="441.70" y="618.70" font-size="7.2" fill="#1a1a1a" stroke="#1a1a1a" stroke-width="0.12">[0.72-0.99]</text>
<text x="497.70" y="618.70" font-size="7.2" text-anchor="middle" fill="#1a1a1a" stroke="#1a1a1a" stroke-width="0.12">34.5 %</text>
<text x="18.00" y="627.50" font-size="7.2" font-weight="bold" fill="#1a1a1a" stroke="#1a1a1a" stroke-width="0.26">Random effects model</text>
<text x="152.90" y="627.50" font-size="7.2" font-weight="bold" fill="#1a1a1a" stroke="#1a1a1a" stroke-width="0.26" letter-spacing="0.28">466</text>
<text x="202.00" y="627.50" font-size="7.2" font-weight="bold" fill="#1a1a1a" stroke="#1a1a1a" stroke-width="0.26" letter-spacing="0.28">1583</text>
<text x="238.10" y="627.50" font-size="7.2" font-weight="bold" fill="#1a1a1a" stroke="#1a1a1a" stroke-width="0.26" letter-spacing="0.28">535</text>
<text x="271.70" y="627.50" font-size="7.2" font-weight="bold" fill="#1a1a1a" stroke="#1a1a1a" stroke-width="0.26" letter-spacing="0.28">1628</text>
<text x="420.00" y="627.50" font-size="7.2" font-weight="bold" fill="#1a1a1a" stroke="#1a1a1a" stroke-width="0.26">0.90</text>
<text x="441.70" y="627.50" font-size="7.2" font-weight="bold" fill="#1a1a1a" stroke="#1a1a1a" stroke-width="0.26">[0.79-1.02]</text>
<text x="497.70" y="627.50" font-size="7.2" font-weight="bold" text-anchor="middle" fill="#1a1a1a" stroke="#1a1a1a" stroke-width="0.26">82.7 %</text>
<text x="18.00" y="636.10" font-size="6.1" fill="#1a1a1a"><tspan>Heterogeneity: tau</tspan><tspan dy="-3.2" font-size="3.90">2</tspan><tspan dy="3.2">=0, chi</tspan><tspan dy="-3.2" font-size="3.90">2</tspan><tspan dy="3.2">=1.85, df=3 (P=0.60), I</tspan><tspan dy="-3.2" font-size="3.90">2</tspan><tspan dy="3.2">=0%</tspan></text>
<text x="18.00" y="655.00" font-size="7.2" font-weight="bold" fill="#1a1a1a" stroke="#1a1a1a" stroke-width="0.26">Random effects model</text>
<text x="152.90" y="655.00" font-size="7.2" font-weight="bold" fill="#1a1a1a" stroke="#1a1a1a" stroke-width="0.26" letter-spacing="0.28">585</text>
<text x="202.00" y="655.00" font-size="7.2" font-weight="bold" fill="#1a1a1a" stroke="#1a1a1a" stroke-width="0.26" letter-spacing="0.28">2294</text>
<text x="238.10" y="655.00" font-size="7.2" font-weight="bold" fill="#1a1a1a" stroke="#1a1a1a" stroke-width="0.26" letter-spacing="0.28">662</text>
<text x="271.70" y="655.00" font-size="7.2" font-weight="bold" fill="#1a1a1a" stroke="#1a1a1a" stroke-width="0.26" letter-spacing="0.28">2332</text>
<text x="420.00" y="655.00" font-size="7.2" font-weight="bold" fill="#1a1a1a" stroke="#1a1a1a" stroke-width="0.26">0.90</text>
<text x="441.70" y="655.00" font-size="7.2" font-weight="bold" fill="#1a1a1a" stroke="#1a1a1a" stroke-width="0.26">[0.82-1.01]</text>
<text x="497.70" y="655.00" font-size="7.2" font-weight="bold" text-anchor="middle" fill="#1a1a1a" stroke="#1a1a1a" stroke-width="0.26">100.0%</text>
<text x="18.00" y="664.20" font-size="6.1" fill="#1a1a1a"><tspan>Heterogeneity: tau</tspan><tspan dy="-3.2" font-size="3.90">2</tspan><tspan dy="3.2">=0, chi</tspan><tspan dy="-3.2" font-size="3.90">2</tspan><tspan dy="3.2">=4.03, df=5 (P=0.54 ), I</tspan><tspan dy="-3.2" font-size="3.90">2</tspan><tspan dy="3.2">=0%</tspan></text>
<text x="18.00" y="672.20" font-size="6.1" fill="#1a1a1a"><tspan>Test for subgroup differences: chi</tspan><tspan dy="-3.2" font-size="3.90">2</tspan><tspan dy="3.2">=0.04, df=1 (P=0.85)</tspan></text>
<line x1="360.30" y1="527.30" x2="360.30" y2="666.30" stroke="#333" stroke-width="1.3"/>
<line x1="357.68" y1="527.30" x2="357.68" y2="666.30" stroke="#46526a" stroke-width="1" stroke-dasharray="3.5 2.67" stroke-dashoffset="2.2"/>
<line x1="350.22" y1="532.70" x2="362.08" y2="532.70" stroke="#505050" stroke-width="1"/>
<rect x="354.95" y="531.55" width="2.30" height="2.30" fill="#274a88" stroke="#173677" stroke-width="0.5"/>
<line x1="354.40" y1="541.70" x2="376.34" y2="541.70" stroke="#505050" stroke-width="1"/>
<rect x="364.80" y="541.10" width="1.20" height="1.20" fill="#1d3f80"/>
<line x1="355.55" y1="588.30" x2="362.29" y2="588.30" stroke="#505050" stroke-width="1"/>
<rect x="355.42" y="584.80" width="7.00" height="7.00" fill="#274a88" stroke="#173677" stroke-width="0.5"/>
<line x1="350.92" y1="597.60" x2="366.12" y2="597.60" stroke="#505050" stroke-width="1"/>
<rect x="357.93" y="596.85" width="1.50" height="1.50" fill="#1d3f80"/>
<line x1="307.50" y1="606.80" x2="387.82" y2="606.80" stroke="#505050" stroke-width="1"/>
<path d="M307.50 606.80 L311.50 605.25 L311.50 608.35 Z" fill="#111"/>
<rect x="336.42" y="606.55" width="0.50" height="0.50" fill="#1d3f80"/>
<line x1="352.57" y1="616.20" x2="359.87" y2="616.20" stroke="#505050" stroke-width="1"/>
<rect x="352.95" y="613.05" width="6.30" height="6.30" fill="#274a88" stroke="#173677" stroke-width="0.5"/>
<path d="M350.22 551.20 L358.19 549.80 L370.44 551.20 L358.19 552.60 Z" fill="#a3002b"/>
<path d="M354.69 625.30 L357.68 622.10 L360.55 625.30 L357.68 628.50 Z" fill="#a3002b"/>
<path d="M355.55 653.10 L357.68 649.60 L360.33 653.10 L357.68 656.60 Z" fill="#a3002b"/>
<line x1="304" y1="666.30" x2="416" y2="666.30" stroke="#111" stroke-width="1.1"/>
<line x1="307.30" y1="666.30" x2="307.30" y2="669.60" stroke="#111" stroke-width="1"/>
<text x="307.30" y="679.30" font-size="7.4" text-anchor="middle" fill="#222" stroke="#222" stroke-width="0.15">0.10</text>
<line x1="328.31" y1="666.30" x2="328.31" y2="669.60" stroke="#111" stroke-width="1"/>
<text x="328.31" y="679.30" font-size="7.4" text-anchor="middle" fill="#222" stroke="#222" stroke-width="0.15">0.25</text>
<line x1="344.21" y1="666.30" x2="344.21" y2="669.60" stroke="#111" stroke-width="1"/>
<text x="344.21" y="679.30" font-size="7.4" text-anchor="middle" fill="#222" stroke="#222" stroke-width="0.15">0.50</text>
<line x1="360.10" y1="666.30" x2="360.10" y2="669.60" stroke="#111" stroke-width="1"/>
<text x="360.10" y="679.30" font-size="7.4" text-anchor="middle" fill="#222" stroke="#222" stroke-width="0.15">1.0</text>
<line x1="375.99" y1="666.30" x2="375.99" y2="669.60" stroke="#111" stroke-width="1"/>
<text x="375.99" y="679.30" font-size="7.4" text-anchor="middle" fill="#222" stroke="#222" stroke-width="0.15">2.0</text>
<line x1="397.01" y1="666.30" x2="397.01" y2="669.60" stroke="#111" stroke-width="1"/>
<text x="397.01" y="679.30" font-size="7.4" text-anchor="middle" fill="#222" stroke="#222" stroke-width="0.15">5.0</text>
<line x1="412.90" y1="666.30" x2="412.90" y2="669.60" stroke="#111" stroke-width="1"/>
<text x="412.90" y="679.30" font-size="7.4" text-anchor="middle" fill="#222" stroke="#222" stroke-width="0.15">10.0</text>
<text x="0" y="0" font-size="9.4" fill="#111" stroke="#111" stroke-width="0.5" letter-spacing="0.62" transform="translate(305.9 692.60) scale(0.6 1)">Favors prophylaxis</text>
<text x="0" y="0" font-size="9.4" fill="#111" stroke="#111" stroke-width="0.5" letter-spacing="0.55" transform="translate(365.2 692.60) scale(0.6 1)">Favors control</text>
</svg>
<div class="b" style="left:0;top:0;width:520px;height:1px"></div>
<div class="b" style="left:0;top:0;width:1px;height:703px"></div>
<div class="b" style="left:519px;top:0;width:1px;height:703px"></div>
<div class="b" style="left:518px;top:0;width:1px;height:703px;opacity:.35"></div>
<div class="b" style="left:0;top:702px;width:520px;height:1px"></div>
<div class="b" style="left:0;top:701px;width:520px;height:1px;opacity:.8"></div>
</body></html>
